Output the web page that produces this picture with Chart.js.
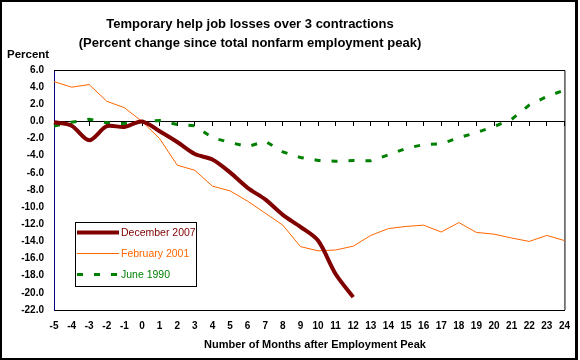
<!DOCTYPE html>
<html>
<head>
<meta charset="utf-8">
<script src="https://cdn.jsdelivr.net/npm/chart.js@4"></script>
<style>
    html, body { margin: 0; padding: 0; background: #fff; }
    #wrap { width: 580px; height: 360px; position: relative; }
</style>
</head>
<body>
<div id="wrap"><canvas id="lossChart"></canvas></div>
<script>
const months = [-5, -4, -3, -2, -1, 0, 1, 2, 3, 4, 5, 6, 7, 8, 9, 10, 11, 12,
    13, 14, 15, 16, 17, 18, 19, 20, 21, 22, 23, 24];

// percent change since total nonfarm employment peak
const dec2007 = [-0.1, -0.5, -2.2, -0.55, -0.65, 0.0, -1.15, -2.4, -3.8, -4.45,
    -5.95, -7.75, -9.1, -10.9, -12.3, -13.9, -17.8, -20.5];
const feb2001 = [4.65, 4.0, 4.3, 2.35, 1.6, 0.0, -2.0, -5.1, -5.7, -7.55,
    -8.1, -9.3, -10.7, -12.1, -14.6, -15.1, -15.0, -14.55, -13.3, -12.5,
    -12.25, -12.1, -12.9, -11.8, -12.95, -13.15, -13.6, -14.0, -13.3, -13.9];
const jun1990 = [-0.55, -0.1, 0.25, -0.15, -0.25, 0.0, 0.1, -0.35, -0.5, -1.9,
    -2.45, -2.95, -2.3, -3.55, -4.2, -4.55, -4.65, -4.55, -4.6, -3.9,
    -3.15, -2.7, -2.6, -1.9, -1.3, -0.6, 0.25, 1.9, 2.9, 3.65];

const seriesLabels = ["December 2007", "February 2001", "June 1990"];
const titleLines = ["Temporary help job losses over 3 contractions",
    "(Percent change since total nonfarm employment peak)"];
const yAxisLabel = "Percent";
const xAxisLabel = "Number of Months after Employment Peak";

const FONT = '"Liberation Sans", Arial, sans-serif';

// title, axis captions, legend box and outer frame, drawn like the excel original
const decorations = {
    id: 'decorations',
    beforeDraw(chart) {
        const ctx = chart.ctx;
        ctx.save();
        ctx.fillStyle = '#fff';
        ctx.fillRect(0, 0, chart.width, chart.height);
        ctx.restore();
    },
    beforeDatasetsDraw(chart) {
        const ctx = chart.ctx;
        const a = chart.chartArea;
        ctx.save();
        ctx.strokeStyle = '#000';
        ctx.lineWidth = 1;
        ctx.beginPath();
        ctx.moveTo(a.left, a.top + 0.5);
        ctx.lineTo(a.right + 0.5, a.top + 0.5);
        ctx.lineTo(a.right + 0.5, a.bottom);
        ctx.stroke();
        ctx.restore();
    },
    afterDraw(chart) {
        const ctx = chart.ctx;
        ctx.save();
        ctx.fillStyle = '#000';
        ctx.textBaseline = 'alphabetic';

        ctx.font = 'bold 13px ' + FONT;
        ctx.textAlign = 'center';
        ctx.fillText(titleLines[0], 250, 28);
        ctx.fillText(titleLines[1], 250, 47);

        ctx.font = 'bold 11.5px ' + FONT;
        ctx.textAlign = 'left';
        ctx.fillText(yAxisLabel, 7, 58);

        ctx.font = 'bold 11px ' + FONT;
        ctx.textAlign = 'center';
        ctx.fillText(xAxisLabel, 315, 348);

        // legend
        ctx.fillStyle = '#fff';
        ctx.fillRect(75.5, 222.5, 121, 64);
        ctx.strokeStyle = '#000';
        ctx.lineWidth = 1;
        ctx.strokeRect(75.5, 222.5, 121, 64);
        const rows = [232.5, 253.5, 274.5];
        chart.data.datasets.forEach((ds, i) => {
            ctx.save();
            ctx.strokeStyle = ds.borderColor;
            ctx.lineWidth = ds.borderWidth;
            ctx.setLineDash(ds.borderDash || []);
            ctx.beginPath();
            ctx.moveTo(77, rows[i]);
            ctx.lineTo(119, rows[i]);
            ctx.stroke();
            ctx.restore();
            ctx.fillStyle = ds.borderColor;
            ctx.font = '10.5px ' + FONT;
            ctx.textAlign = 'left';
            ctx.textBaseline = 'middle';
            ctx.fillText(ds.label, 121, rows[i] + 0.5);
        });

        // outer frame
        ctx.fillStyle = '#000';
        ctx.fillRect(0, 0, 2, 360);
        ctx.fillRect(0, 0, 578, 2);
        ctx.fillRect(575, 0, 3, 360);
        ctx.fillRect(0, 358, 578, 2);
        ctx.restore();
    }
};

const ctx = document.getElementById('lossChart').getContext('2d');
new Chart(ctx, {
    type: 'line',
    data: {
        labels: months,
        datasets: [
            {
                label: seriesLabels[0],
                data: dec2007,
                borderColor: '#800000',
                borderWidth: 4,
                tension: 0.3,
                borderJoinStyle: 'round',
                pointRadius: 0
            },
            {
                label: seriesLabels[1],
                data: feb2001,
                borderColor: '#FF6600',
                borderWidth: 1,
                tension: 0,
                pointRadius: 0
            },
            {
                label: seriesLabels[2],
                data: jun1990,
                borderColor: '#008000',
                borderWidth: 3,
                borderDash: [6, 11],
                tension: 0,
                pointRadius: 0
            }
        ]
    },
    options: {
        responsive: true,
        maintainAspectRatio: false,
        animation: false,
        events: [],
        layout: {
            padding: { top: 70, right: 13, left: 0, bottom: 0 }
        },
        scales: {
            x: {
                type: 'category',
                offset: false,
                grid: { display: false, drawTicks: false },
                border: { display: true, color: '#000', width: 1 },
                ticks: {
                    color: '#000',
                    font: { family: FONT, size: 10, weight: 'bold' },
                    padding: 10,
                    maxRotation: 0,
                    autoSkip: false
                },
                afterFit(scale) { scale.height = 50; }
            },
            x0: {
                type: 'category',
                position: { y: 0 },
                offset: false,
                grid: {
                    display: true,
                    drawOnChartArea: false,
                    drawTicks: true,
                    tickLength: 4,
                    color: '#000'
                },
                border: { display: true, color: '#000', width: 1 },
                ticks: { display: false }
            },
            y: {
                min: -22,
                max: 6,
                grid: { display: false, drawTicks: false },
                border: { display: true, color: '#000080', width: 1 },
                ticks: {
                    stepSize: 2,
                    color: '#000',
                    font: { family: FONT, size: 10, weight: 'bold' },
                    padding: 10,
                    callback: (v) => Number(v).toFixed(1)
                },
                afterFit(scale) { scale.width = 54; }
            }
        },
        plugins: {
            legend: { display: false },
            title: { display: false },
            tooltip: { enabled: false }
        }
    },
    plugins: [decorations]
});
</script>
</body>
</html>
